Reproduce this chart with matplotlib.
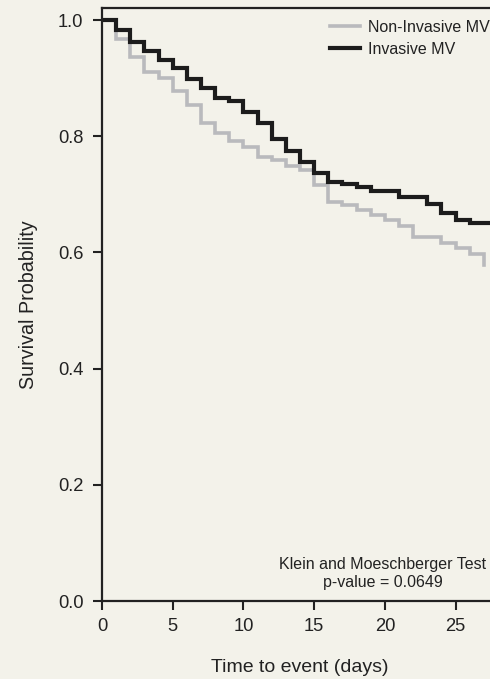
import numpy as np
import matplotlib
matplotlib.use("Agg")
import matplotlib.pyplot as plt

plt.rcParams['font.family'] = ['Liberation Sans', 'DejaVu Sans']

# survival estimates (step changes at each day)
days_inv = [0, 1, 2, 3, 4, 5, 6, 7, 8, 9, 10, 11, 12, 13, 14, 15, 16, 17, 18, 19,
            20, 21, 22, 23, 24, 25, 26, 27.3]
surv_inv = [1.0, 0.982, 0.963, 0.947, 0.932, 0.917, 0.898, 0.883, 0.865, 0.860,
            0.842, 0.823, 0.795, 0.775, 0.755, 0.736, 0.722, 0.717, 0.712, 0.705,
            0.705, 0.695, 0.695, 0.684, 0.668, 0.655, 0.650, 0.650]

days_noninv = [0, 1, 2, 3, 4, 5, 6, 7, 8, 9, 10, 11, 12, 13, 14, 15, 16, 17, 18,
               19, 20, 21, 22, 23, 24, 25, 26, 27]
surv_noninv = [1.0, 0.967, 0.937, 0.910, 0.900, 0.878, 0.854, 0.823, 0.805, 0.791,
               0.782, 0.765, 0.759, 0.749, 0.742, 0.716, 0.687, 0.682, 0.673, 0.664,
               0.656, 0.645, 0.626, 0.626, 0.616, 0.607, 0.598, 0.578]

labels = ["Non-Invasive MV", "Invasive MV"]
test_text = "Klein and Moeschberger Test\np-value = 0.0649"

bg = "#f3f2ea"
fig = plt.figure(figsize=(4.9, 6.79), dpi=100, facecolor=bg)
# axes run a little past the right edge, like the cropped original
ax = fig.add_axes([102/490, 78/679, 396/490, 593/679])
ax.set_facecolor(bg)

ax.plot(days_noninv, surv_noninv, drawstyle="steps-post", color="#b9babd",
        lw=2.6, label=labels[0], solid_joinstyle="miter")
ax.plot(days_inv, surv_inv, drawstyle="steps-post", color="#1c1c1c",
        lw=3.0, label=labels[1], solid_joinstyle="miter")

ax.set_xlim(0, 28)
ax.set_ylim(0, 1.0207)
ax.set_xticks([0, 5, 10, 15, 20, 25])
ax.set_yticks([0.0, 0.2, 0.4, 0.6, 0.8, 1.0])
ax.set_yticklabels(["0.0", "0.2", "0.4", "0.6", "0.8", "1.0"])
ax.tick_params(direction="out", length=6.5, width=1.5, labelsize=13.2,
               colors="#222222", pad=6)
ax.tick_params(axis="y", pad=7)
for s in ax.spines.values():
    s.set_linewidth(1.6)
    s.set_color("#222222")

ax.set_xlabel("Time to event (days)", fontsize=14, color="#222222")
ax.set_ylabel("Survival Probability", fontsize=14.2, color="#222222")
ax.xaxis.set_label_coords(0.5, -0.097)
ax.yaxis.set_label_coords(-0.1616, 0.5)

leg = ax.legend(loc="upper left", bbox_to_anchor=(330/490, 1 - 20/679),
                bbox_transform=fig.transFigure, frameon=False, fontsize=11.5,
                handlelength=1.9, handletextpad=0.45, labelspacing=0.42,
                borderpad=0, borderaxespad=0)
for t in leg.get_texts():
    t.set_color("#222222")

fig.text(383/490, 1 - 573/679, test_text, ha="center", va="center",
         fontsize=11.5, color="#222222", linespacing=1.25)

fig.savefig("out.png", dpi=100, facecolor=bg)
